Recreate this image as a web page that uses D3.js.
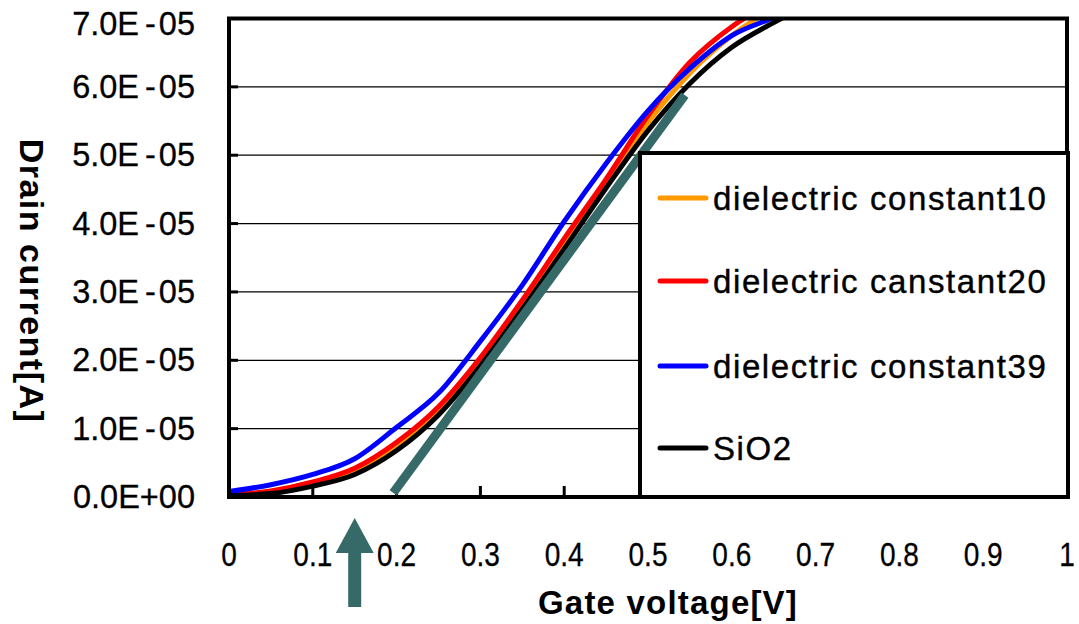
<!DOCTYPE html>
<html>
<head>
<meta charset="utf-8">
<script src="https://cdn.jsdelivr.net/npm/d3@7"></script>
<style>
  html, body { margin: 0; padding: 0; background: #fff; }
  svg { display: block; font-family: "Liberation Sans", Arial, sans-serif; }
</style>
</head>
<body>
<svg id="chart" width="1079" height="624"></svg>
<script>
// Gate voltage sweep [V]
const gateVoltage = [0, 0.05, 0.1, 0.15, 0.2, 0.25, 0.3, 0.35, 0.4, 0.45, 0.5, 0.55, 0.6, 0.65, 0.7];

// Drain current in units of 1E-06 A
const currentK10  = [0.2, 0.7, 1.9, 3.8, 7.4, 12.6, 19.8, 28.2, 37.2, 46.0, 54.8, 62.0, 67.5, 71.5, 74.5];
const currentK20  = [0.3, 0.9, 2.2, 4.2, 8.0, 13.2, 20.4, 28.8, 37.8, 46.5, 55.8, 63.6, 68.8, 72.5, 75.5];
const currentK39  = [0.8, 1.8, 3.3, 5.6, 10.2, 15.2, 22.8, 31.0, 40.3, 48.8, 56.5, 62.7, 67.5, 70.2, 73.5];
const currentSiO2 = [0.2, 0.5, 1.6, 3.3, 6.8, 12.0, 19.2, 27.5, 36.3, 45.2, 53.6, 60.5, 65.8, 69.4, 72.5];

const seriesNames  = ["dielectric constant10", "dielectric canstant20", "dielectric constant39", "SiO2"];
const seriesColors = ["#ff9900", "#ff0000", "#0000ff", "#000000"];
const seriesValues = [currentK10, currentK20, currentK39, currentSiO2];

// Threshold extrapolation line (two end points)
const tangentV = [0.196, 0.544];
const tangentI = [0.6, 58.8];

// Marked threshold voltage
const arrowV = 0.15;

// Axes
const xTicks = [0, 0.1, 0.2, 0.3, 0.4, 0.5, 0.6, 0.7, 0.8, 0.9, 1];
const xTickLabels = ["0", "0.1", "0.2", "0.3", "0.4", "0.5", "0.6", "0.7", "0.8", "0.9", "1"];
const yTicks = [0, 10, 20, 30, 40, 50, 60, 70];
const yTickLabels = ["0.0E+00", "1.0E-05", "2.0E-05", "3.0E-05", "4.0E-05", "5.0E-05", "6.0E-05", "7.0E-05"];

const svg = d3.select("#chart");
const plot = { left: 229, right: 1067, top: 18.5, bottom: 497 };

const x = d3.scaleLinear().domain([0, 1]).range([plot.left, plot.right]);
const y = d3.scaleLinear().domain([0, 70]).range([plot.bottom, plot.top]);

svg.append("defs").append("clipPath").attr("id", "plotClip")
  .append("rect")
  .attr("x", plot.left).attr("y", plot.top)
  .attr("width", plot.right - plot.left).attr("height", plot.bottom - plot.top);

// Horizontal grid lines
svg.append("g").selectAll("line").data(yTicks.slice(1)).join("line")
  .attr("x1", plot.left).attr("x2", plot.right)
  .attr("y1", d => y(d)).attr("y2", d => y(d))
  .attr("stroke", "#000").attr("stroke-width", 1.3);

// Inward tick marks
svg.append("g").selectAll("line").data(yTicks).join("line")
  .attr("x1", plot.left).attr("x2", plot.left + 9)
  .attr("y1", d => y(d)).attr("y2", d => y(d))
  .attr("stroke", "#000").attr("stroke-width", 3);
svg.append("g").selectAll("line").data(xTicks).join("line")
  .attr("x1", d => x(d)).attr("x2", d => x(d))
  .attr("y1", plot.bottom).attr("y2", plot.bottom - 11)
  .attr("stroke", "#000").attr("stroke-width", 3);

// Curves
const line = d3.line()
  .x((d, i) => x(gateVoltage[i]))
  .y(d => y(d))
  .curve(d3.curveMonotoneX);

const curves = svg.append("g").attr("clip-path", "url(#plotClip)");
seriesValues.forEach((vals, k) => {
  curves.append("path")
    .datum(vals)
    .attr("d", line)
    .attr("fill", "none")
    .attr("stroke", seriesColors[k])
    .attr("stroke-width", 5)
    .attr("stroke-linejoin", "round");
});

// Extrapolated straight line
svg.append("line")
  .attr("x1", x(tangentV[0])).attr("y1", y(tangentI[0]))
  .attr("x2", x(tangentV[1])).attr("y2", y(tangentI[1]))
  .attr("stroke", "#356a68").attr("stroke-width", 9);

// Plot frame
svg.append("path")
  .attr("d", `M${plot.left},${plot.bottom} L${plot.left},${plot.top} L${plot.right},${plot.top} L${plot.right},${plot.bottom} Z`)
  .attr("fill", "none").attr("stroke", "#000").attr("stroke-width", 4);

// Legend
const legend = { left: 640, top: 153, right: 1068, bottom: 497 };
svg.append("rect")
  .attr("x", legend.left).attr("y", legend.top)
  .attr("width", legend.right - legend.left).attr("height", legend.bottom - legend.top)
  .attr("fill", "#fff").attr("stroke", "#000").attr("stroke-width", 4);

const legendRows = [198, 281, 366, 448];
const lg = svg.append("g").selectAll("g").data(seriesNames).join("g")
  .attr("transform", (d, i) => `translate(0,${legendRows[i]})`);
lg.append("line")
  .attr("x1", 660).attr("x2", 706)
  .attr("stroke", (d, i) => seriesColors[i])
  .attr("stroke-width", 5).attr("stroke-linecap", "round");
lg.append("text")
  .attr("x", 713).attr("y", 12)
  .attr("font-size", 33)
  .attr("letter-spacing", 1.6)
  .attr("stroke", "#000").attr("stroke-width", 0.4)
  .attr("fill", "#000")
  .text(d => d);

// Y tick labels (the minus sign is set a little apart)
const yl = svg.append("g").selectAll("text").data(yTickLabels).join("text")
  .attr("text-anchor", "end")
  .attr("x", 195)
  .attr("y", (d, i) => Math.max(y(yTicks[i]) + 11, 35))
  .attr("font-size", 32.5)
  .attr("stroke", "#000").attr("stroke-width", 0.3)
  .attr("fill", "#000");
yl.each(function (d) {
  const t = d3.select(this);
  const parts = d.split("-");
  if (parts.length === 2) {
    t.append("tspan").text(parts[0]);
    t.append("tspan").attr("dx", 6).text("-");
    t.append("tspan").attr("dx", 3).text(parts[1]);
  } else {
    t.text(d);
  }
});

// X tick labels
svg.append("g").selectAll("text").data(xTickLabels).join("text")
  .attr("text-anchor", "middle")
  .attr("transform", (d, i) => `translate(${x(xTicks[i])},566) scale(0.85,1)`)
  .attr("font-size", 33)
  .attr("stroke", "#000").attr("stroke-width", 0.3)
  .attr("fill", "#000")
  .text(d => d);

// Axis titles
svg.append("text")
  .attr("text-anchor", "middle")
  .attr("x", 668).attr("y", 614)
  .attr("font-size", 33).attr("font-weight", "bold")
  .attr("letter-spacing", 1.2)
  .text("Gate voltage[V]");

svg.append("text")
  .attr("text-anchor", "middle")
  .attr("transform", "translate(20,281) rotate(90)")
  .attr("font-size", 34).attr("font-weight", "bold")
  .attr("letter-spacing", 1.5)
  .text("Drain current[A]");

// Arrow marking the threshold voltage
const ax = x(arrowV);
svg.append("path")
  .attr("d", `M${ax},518 L${ax + 19},553 L${ax + 6.5},553 L${ax + 6.5},607 L${ax - 6.5},607 L${ax - 6.5},553 L${ax - 19},553 Z`)
  .attr("fill", "#356a68");
</script>
</body>
</html>
